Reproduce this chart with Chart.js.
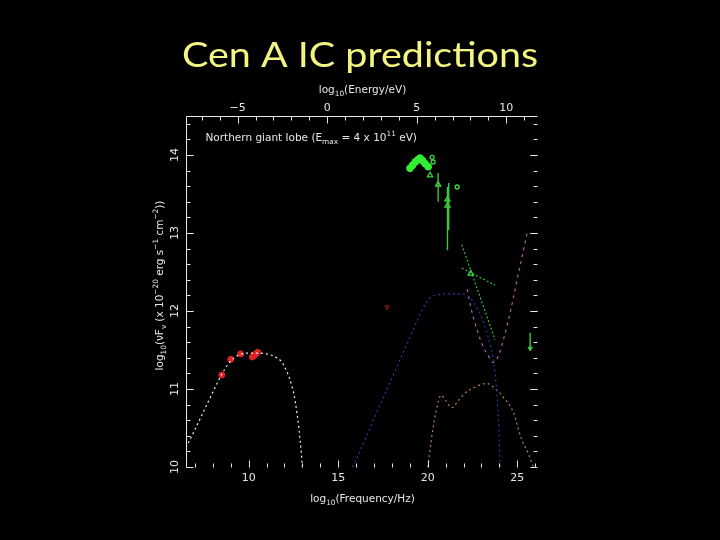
<!DOCTYPE html>
<html><head><meta charset="utf-8">
<script src="https://cdn.jsdelivr.net/npm/chart.js@4.4.0/dist/chart.umd.min.js"></script>
<style>html,body{margin:0;padding:0;background:#000;}#wrap{width:720px;height:540px;position:relative;}</style>
</head><body><div id="wrap"><canvas id="c" width="720" height="540"></canvas></div>
<script>
// ---------- data (log10 frequency / Hz, log10 nuFnu) ----------
const syncFreq = [6.5, 7.0, 7.5, 8.0, 8.5, 9.0, 9.5, 10.0, 10.5, 11.0, 11.5, 11.8, 12.1, 12.4, 12.6, 12.8, 12.95, 13.0];
const syncFlux = [10.25, 10.48, 10.72, 10.96, 11.19, 11.36, 11.44, 11.46, 11.46, 11.45, 11.41, 11.36, 11.24, 11.05, 10.84, 10.5, 10.15, 10.0];

const radioFreq = [8.5, 9.0, 9.55, 10.2, 10.3, 10.4, 10.5];
const radioFlux = [11.18, 11.38, 11.45, 11.41, 11.43, 11.45, 11.47];

const xrayLimFreq = [17.73];
const xrayLimFlux = [12.05];

const icCmbFreq = [15.8, 16.5, 17.0, 17.5, 18.0, 18.5, 19.0, 19.5, 19.9, 20.2, 20.6, 21.2, 21.8, 22.2, 22.6, 23.0, 23.3, 23.6, 23.8, 23.95, 24.05];
const icCmbFlux = [10.0, 10.35, 10.62, 10.88, 11.14, 11.4, 11.66, 11.92, 12.1, 12.18, 12.21, 12.22, 12.22, 12.2, 12.1, 11.92, 11.72, 11.45, 11.1, 10.6, 10.0];

const totalFreq = [22.2, 22.4, 22.75, 23.1, 23.45, 23.65, 23.85, 24.0, 24.5, 25.1, 25.55];
const totalFlux = [12.28, 12.05, 11.76, 11.54, 11.4, 11.34, 11.38, 11.46, 11.88, 12.52, 13.0];

const icEblFreq = [20.0, 20.2, 20.45, 20.75, 21.0, 21.35, 21.7, 22.1, 22.6, 23.0, 23.3, 23.7, 24.2, 24.8, 25.2, 25.6, 25.9];
const icEblFlux = [10.0, 10.35, 10.7, 10.92, 10.85, 10.76, 10.85, 10.95, 11.02, 11.06, 11.07, 11.02, 10.9, 10.69, 10.38, 10.18, 10.0];

const gammaFillFreq = [19.01, 19.15, 19.3, 19.45, 19.57, 19.7, 19.85, 20.02];
const gammaFillFlux = [13.83, 13.87, 13.91, 13.94, 13.96, 13.93, 13.89, 13.85];
const gammaCircFreq = [20.24, 20.3, 21.64];
const gammaCircFlux = [13.97, 13.91, 13.59];
const gammaTriFreq = [20.13, 20.58, 21.1, 21.1, 22.4];
const gammaTriFlux = [13.74, 13.62, 13.43, 13.35, 12.48];
const errBarFreq = [20.58, 21.1, 21.17];
const errBarLow = [13.4, 12.78, 13.04];
const errBarHigh = [13.77, 13.59, 13.64];
const bowFreq = [21.9, 23.76];
const bowFluxA = [12.85, 11.63];
const bowFluxB = [12.55, 12.33];
const ulFreq = [25.72];
const ulFluxTop = [11.72];
const ulFluxBottom = [11.52];

// ---------- axes ----------
const freqTicks = [7,8,9,10,11,12,13,14,15,16,17,18,19,20,21,22,23,24,25,26];
const freqLabels = [10, 15, 20, 25];
const energyTicks = [-7,-6,-5,-4,-3,-2,-1,0,1,2,3,4,5,6,7,8,9,10,11];
const energyLabels = [-5, 0, 5, 10];
const fluxTicks = [10.2,10.4,10.6,10.8,11,11.2,11.4,11.6,11.8,12,12.2,12.4,12.6,12.8,13,13.2,13.4,13.6,13.8,14,14.2,14.4];
const fluxLabels = [10, 11, 12, 13, 14];
const LOG_NU_PER_EV = 14.383;
const TITLE = 'Cen A IC predictions';

const pts = (xs, ys) => xs.map((v, i) => ({x: v, y: ys[i]}));

const lineDs = (label, xs, ys, color, dash, width) => ({
  label, data: pts(xs, ys), showLine: true, borderColor: color, borderWidth: width || 1.2,
  borderDash: dash, pointRadius: 0, cubicInterpolationMode: 'monotone', fill: false
});

const datasets = [
  lineDs('synchrotron', syncFreq, syncFlux, '#f2f2f2', [2, 3]),
  lineDs('IC CMB', icCmbFreq, icCmbFlux, '#3434a8', [2, 3]),
  lineDs('IC EBL', icEblFreq, icEblFlux, '#b87a5c', [2, 3]),
  lineDs('total', totalFreq, totalFlux, '#b35cb8', [3, 4]),
  {label: 'radio', data: pts(radioFreq, radioFlux), pointRadius: 3, pointBackgroundColor: '#e02424', pointBorderColor: '#e02424', showLine: false},
  {label: 'xray', data: pts(xrayLimFreq, xrayLimFlux), pointStyle: 'triangle', rotation: 180, pointRadius: 2.5, pointBackgroundColor: 'rgba(0,0,0,0)', pointBorderColor: '#a82020', pointBorderWidth: 1, showLine: false},
  lineDs('bowtie A', bowFreq, bowFluxA, '#3cc83c', [2, 2], 1.1),
  lineDs('bowtie B', bowFreq, bowFluxB, '#3cc83c', [2, 2], 1.1),
  ...errBarFreq.map((f, i) => ({label: 'err' + i, data: pts([f, f], [errBarLow[i], errBarHigh[i]]), showLine: true, borderColor: '#3cc83c', borderWidth: 1.4, pointRadius: 0})),
  {label: 'ul', data: pts([ulFreq[0], ulFreq[0]], [ulFluxTop[0], ulFluxBottom[0]]), showLine: true, borderColor: '#3cc83c', borderWidth: 1.4, pointRadius: 0},
  {label: 'ulhead', data: pts(ulFreq, ulFluxBottom), pointStyle: 'triangle', rotation: 180, pointRadius: 2.5, pointBackgroundColor: '#3cc83c', pointBorderColor: '#3cc83c', showLine: false},
  {label: 'gamma fill', data: pts(gammaFillFreq, gammaFillFlux), pointRadius: 3.4, pointBackgroundColor: '#33ee33', pointBorderColor: '#33ee33', showLine: false},
  {label: 'gamma circ', data: pts(gammaCircFreq, gammaCircFlux), pointRadius: 2, pointBackgroundColor: 'rgba(0,0,0,0)', pointBorderColor: '#3cd83c', pointBorderWidth: 1.3, showLine: false},
  {label: 'gamma tri', data: pts(gammaTriFreq, gammaTriFlux), pointStyle: 'triangle', pointRadius: 3, pointBackgroundColor: 'rgba(0,0,0,0)', pointBorderColor: '#3cd83c', pointBorderWidth: 1.3, showLine: false}
];

const TXT = '#e6e6e6';
const FONT = '"DejaVu Sans", sans-serif';

function richWidth(ctx, segs, size) {
  let w = 0;
  for (const s of segs) { ctx.font = (s.s ? size * 0.7 : size) + 'px ' + FONT; w += ctx.measureText(s.t).width; }
  return w;
}
function drawRich(ctx, segs, x, y, align, size) {
  const w = richWidth(ctx, segs, size);
  let cx = align === 'center' ? x - w / 2 : x;
  ctx.textAlign = 'left'; ctx.textBaseline = 'middle'; ctx.fillStyle = TXT;
  for (const s of segs) {
    const fs = s.s ? size * 0.7 : size;
    ctx.font = fs + 'px ' + FONT;
    const dy = s.s === 'sub' ? size * 0.32 : s.s === 'sup' ? -size * 0.42 : 0;
    ctx.fillText(s.t, cx, y + dy);
    cx += ctx.measureText(s.t).width;
  }
}

const pgAxes = {
  id: 'pgAxes',
  beforeDraw(chart) {
    const c = chart.ctx; c.save(); c.fillStyle = '#000'; c.fillRect(0, 0, chart.width, chart.height); c.restore();
  },
  afterDatasetsDraw(chart) {
    const {ctx, chartArea: a, scales: {x, y}} = chart;
    ctx.save();
    // slide title, stretched horizontally like the original slide
    ctx.font = '35px Lato, "Open Sans", sans-serif';
    const tw = ctx.measureText(TITLE).width;
    ctx.save(); ctx.translate(360, 67); ctx.scale(356 / tw, 1);
    ctx.fillStyle = '#f4f482'; ctx.textAlign = 'center'; ctx.textBaseline = 'alphabetic';
    ctx.fillText(TITLE, 0, 0); ctx.restore();

    ctx.strokeStyle = TXT; ctx.lineWidth = 1;
    const seg = (x1, y1, x2, y2) => { ctx.beginPath(); ctx.moveTo(x1, y1); ctx.lineTo(x2, y2); ctx.stroke(); };
    const L = Math.round(a.left) + 0.5, T = Math.round(a.top) + 0.5, R = Math.round(a.right) + 0.5, B = Math.round(a.bottom) + 0.5;
    seg(L, B, L, T); seg(L, T, R, T);
    for (const v of freqTicks) {
      const px = Math.round(x.getPixelForValue(v)) + 0.5;
      const len = freqLabels.includes(v) ? 7 : 4;
      seg(px, B, px, B - len);
    }
    for (const e of energyTicks) {
      const px = Math.round(x.getPixelForValue(e + LOG_NU_PER_EV)) + 0.5;
      if (px < L || px > R) continue;
      const len = energyLabels.includes(e) ? 7 : 4;
      seg(px, T, px, T + len);
    }
    for (const v of fluxTicks.concat(fluxLabels)) {
      const py = Math.round(y.getPixelForValue(v)) + 0.5;
      const len = fluxLabels.includes(v) ? 7 : 4;
      seg(L, py, L + len, py);
      seg(R - len, py, R, py);
    }
    ctx.fillStyle = TXT; ctx.font = '11px ' + FONT; ctx.textAlign = 'center'; ctx.textBaseline = 'middle';
    for (const v of freqLabels) ctx.fillText(String(v), x.getPixelForValue(v), B + 11);
    for (const e of energyLabels) ctx.fillText(e < 0 ? '\u2212' + Math.abs(e) : String(e), x.getPixelForValue(e + LOG_NU_PER_EV), T - 8);
    for (const v of fluxLabels) {
      ctx.save(); ctx.translate(L - 11, y.getPixelForValue(v)); ctx.rotate(-Math.PI / 2);
      ctx.fillText(String(v), 0, 0); ctx.restore();
    }
    const cxm = (a.left + a.right) / 2 + 1;
    drawRich(ctx, [{t: 'log'}, {t: '10', s: 'sub'}, {t: '(Energy/eV)'}], cxm, T - 26, 'center', 10.5);
    drawRich(ctx, [{t: 'log'}, {t: '10', s: 'sub'}, {t: '(Frequency/Hz)'}], cxm, B + 32, 'center', 10.5);
    ctx.save(); ctx.translate(L - 26, (a.top + a.bottom) / 2 - 6); ctx.rotate(-Math.PI / 2);
    drawRich(ctx, [{t: 'log'}, {t: '10', s: 'sub'}, {t: '(\u03bdF'}, {t: '\u03bd', s: 'sub'}, {t: ' (x 10'}, {t: '\u221220', s: 'sup'}, {t: ' erg s'}, {t: '\u22121', s: 'sup'}, {t: ' cm'}, {t: '\u22122', s: 'sup'}, {t: '))'}], 0, 0, 'center', 10.5);
    ctx.restore();
    drawRich(ctx, [{t: 'Northern giant lobe (E'}, {t: 'max', s: 'sub'}, {t: ' = 4 x 10'}, {t: '11', s: 'sup'}, {t: ' eV)'}], L + 19, T + 22, 'left', 10.5);
    ctx.restore();
  }
};

new Chart(document.getElementById('c'), {
  type: 'scatter',
  data: {datasets},
  options: {
    responsive: false, animation: false, devicePixelRatio: 1,
    layout: {padding: {left: 186, right: 183, top: 116, bottom: 73}},
    scales: {
      x: {type: 'linear', min: 6.5, max: 26.1, display: false},
      y: {type: 'linear', min: 10, max: 14.5, display: false}
    },
    plugins: {legend: {display: false}, tooltip: {enabled: false}, title: {display: false}}
  },
  plugins: [pgAxes]
});
</script></body></html>
